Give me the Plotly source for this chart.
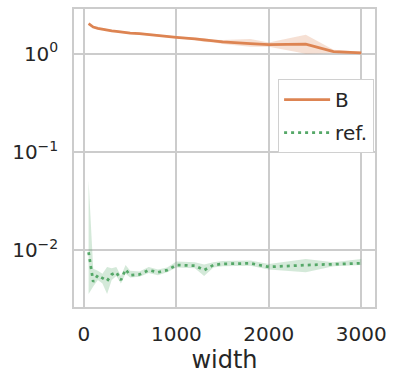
import plotly.graph_objects as go

width = [50, 100, 150, 200, 250, 300, 350, 400, 450, 500, 600, 700, 800, 900,
         1000, 1200, 1300, 1400, 1500, 1800, 2000, 2400, 2700, 3000]

b_mean = [2.02, 1.87, 1.81, 1.77, 1.74, 1.71, 1.69, 1.66, 1.65, 1.62, 1.60, 1.56,
          1.52, 1.50, 1.47, 1.42, 1.38, 1.35, 1.32, 1.27, 1.24, 1.25, 1.05, 1.02]
b_low = [1.98, 1.84, 1.78, 1.74, 1.71, 1.67, 1.66, 1.62, 1.62, 1.59, 1.57, 1.52,
         1.49, 1.47, 1.44, 1.38, 1.32, 1.31, 1.26, 1.18, 1.18, 1.00, 1.02, 1.00]
b_high = [2.06, 1.90, 1.84, 1.82, 1.78, 1.75, 1.73, 1.70, 1.69, 1.66, 1.64, 1.60,
          1.56, 1.53, 1.50, 1.46, 1.44, 1.39, 1.38, 1.41, 1.30, 1.56, 1.10, 1.05]

ref_mean = [0.0096, 0.0048, 0.0056, 0.0052, 0.0049, 0.0057, 0.0060, 0.0050, 0.0064,
            0.0056, 0.0057, 0.0063, 0.0060, 0.0063, 0.0071, 0.0070, 0.0063, 0.0071,
            0.0073, 0.0074, 0.0068, 0.0071, 0.0072, 0.0074]
ref_low = [0.0036, 0.0043, 0.0050, 0.0046, 0.0036, 0.0050, 0.0055, 0.0046, 0.0058,
           0.0053, 0.0054, 0.0059, 0.0056, 0.0060, 0.0067, 0.0066, 0.0055, 0.0067,
           0.0069, 0.0070, 0.0064, 0.0060, 0.0069, 0.0071]
ref_high = [0.051, 0.0065, 0.0062, 0.0058, 0.0068, 0.0066, 0.0068, 0.0055, 0.0071,
            0.0062, 0.0061, 0.0068, 0.0064, 0.0067, 0.0077, 0.0076, 0.0072, 0.0076,
            0.0078, 0.0079, 0.0073, 0.0082, 0.0076, 0.0082]

ORANGE = "#dd8452"
GREEN = "#55a868"
FONT = "DejaVu Sans"

fig = go.Figure()

def band(x, lo, hi, color):
    fig.add_trace(go.Scatter(x=x + x[::-1], y=hi + lo[::-1], fill="toself",
                             fillcolor=color, line=dict(width=0), mode="lines",
                             showlegend=False, hoverinfo="skip"))

band(width, b_low, b_high, "rgba(221,132,82,0.25)")
band(width, ref_low, ref_high, "rgba(85,168,104,0.25)")

fig.add_trace(go.Scatter(x=width, y=b_mean, mode="lines", name="B",
                         legendgroup="b",
                         line=dict(color=ORANGE, width=2.75)))
fig.add_trace(go.Scatter(x=width, y=ref_mean, mode="lines", name="ref.",
                         legendgroup="r",
                         line=dict(color=GREEN, width=2.75, dash="3px,4px")))

fig.update_layout(
    width=399, height=381,
    margin=dict(l=74, r=24, t=9, b=74, autoexpand=False),
    paper_bgcolor="white", plot_bgcolor="white",
    font=dict(family=FONT, size=20, color="#262626"),
    legend=dict(x=0.997, y=0.765, xanchor="right", yanchor="top",
                bgcolor="white", bordercolor="#d0d0d0", borderwidth=1,
                tracegroupgap=4, itemwidth=46, entrywidth=60,
                font=dict(size=20)),
)
fig.update_xaxes(range=[-108, 3149], tickvals=[0, 1000, 2000, 3000],
                 showgrid=True, gridcolor="#cccccc", gridwidth=1.5,
                 showline=True, linecolor="#cccccc", linewidth=1.5, mirror=True,
                 zeroline=False, ticks="", automargin=False, ticklabelstandoff=8,
                 title=dict(text="width", standoff=0))
fig.update_yaxes(type="log", range=[-2.575, 0.455],
                 tickvals=[1, 0.1, 0.01],
                 ticktext=["10<sup>0</sup>", "10<sup>−1</sup>", "10<sup>−2</sup>"],
                 showgrid=True, gridcolor="#cccccc", gridwidth=1.5,
                 showline=True, linecolor="#cccccc", linewidth=1.5, mirror=True,
                 zeroline=False, ticks="", automargin=False, ticklabelstandoff=10)

fig.write_html("out.html", config={"displayModeBar": False},
               post_script="document.body.style.margin='0px';")
